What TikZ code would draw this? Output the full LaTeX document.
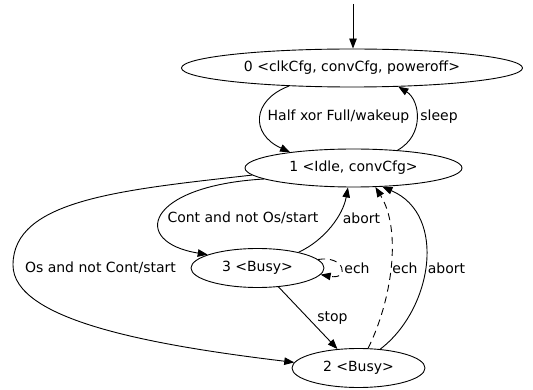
\documentclass[tikz,border=0pt]{standalone}
\usepackage{fontspec}
\setmainfont{DejaVu Sans}
\usetikzlibrary{shapes.geometric,arrows.meta}
\begin{document}
\begin{tikzpicture}[x=1pt,y=-1pt,
  state/.style={ellipse,draw,line width=0.9pt,inner sep=0pt,font=\fontsize{14}{16}\selectfont},
  edge/.style={draw,line width=0.9pt,-{Triangle[length=10pt,width=7.5pt]}},
  lbl/.style={font=\fontsize{14}{16}\selectfont,inner sep=0pt},
  dsh/.style={dash pattern=on 7pt off 5pt}]
\useasboundingbox (0,0) rectangle (533,390);
\node[state,minimum width=341pt,minimum height=38pt] (n0) at (352,68) {0 <clkCfg, convCfg, poweroff>};
\node[state,minimum width=217pt,minimum height=38pt] (n1) at (353.5,168) {1 <Idle, convCfg>};
\node[state,minimum width=133pt,minimum height=39pt] (n3) at (257.5,268) {3 <Busy>};
\node[state,minimum width=133pt,minimum height=39pt] (n2) at (358.5,368) {2 <Busy>};
\coordinate (s) at (353,4);
\coordinate (w) at (13,265);
\draw[edge] (s) -- (s |- n0.north);
\draw[edge] (n0.196) .. controls (252,100) and (250,134) .. (n1.166);
\draw[edge] (n1.22) .. controls (425,135) and (420,100) .. (n0.338);
\draw[edge] (n1.187) .. controls (145,186) and (130,242) .. (n3.165);
\draw[edge] (n1.184) .. controls (120,190) and (13,200) .. (w) .. controls (13,320) and (150,345) .. (n2.175);
\draw[edge] (n3.21) .. controls (325,240) and (343,215) .. (n1.254);
\draw[edge,dsh] (n3.8) .. controls (345,255) and (350,280) .. (n3.354);
\draw[edge] (n3.318) -- (n2.138);
\draw[edge,dsh] (n2.64) .. controls (392,300) and (402,230) .. (n1.319);
\draw[edge] (n2.41) .. controls (432,310) and (448,215) .. (n1.327);
\node[lbl] (l1) at (338.5,117) {Half xor Full/wakeup};
\node[lbl] (l2) at (439,117) {sleep};
\node[lbl] (l3) at (243,218) {Cont and not Os/start};
\node[lbl] (l4) at (361.5,218) {abort};
\node[lbl] (l5) at (100.5,268) {Os and not Cont/start};
\node[lbl] (l6) at (357,268) {ech};
\node[lbl] (l7) at (405,268) {ech};
\node[lbl] (l8) at (446.5,268) {abort};
\node[lbl] (l9) at (332.5,318) {stop};
\end{tikzpicture}
\end{document}
